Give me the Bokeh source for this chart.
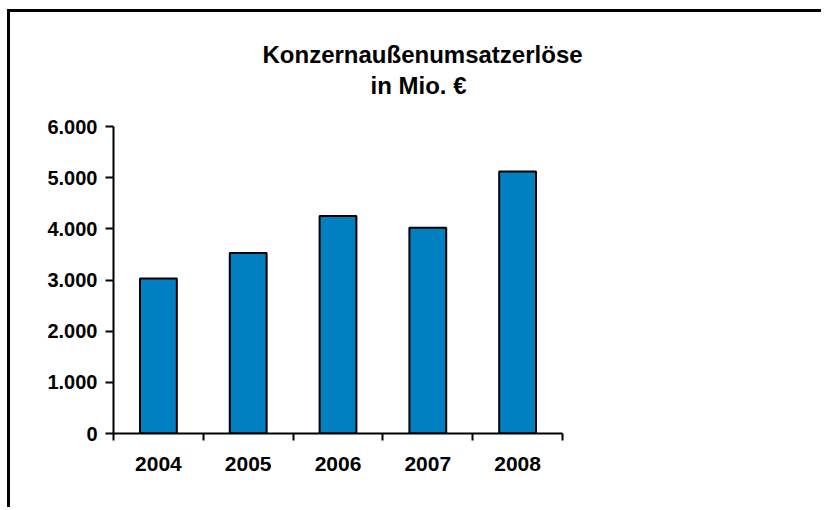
from bokeh.plotting import figure
from bokeh.models import Range1d, FixedTicker, Title, ColumnDataSource
from bokeh.embed import file_html
from bokeh.resources import INLINE

# ---- data ----
years = ["2004", "2005", "2006", "2007", "2008"]
revenue = [3030, 3530, 4250, 4020, 5120]
y_ticks = [0, 1000, 2000, 3000, 4000, 5000, 6000]
y_tick_labels = ["0", "1.000", "2.000", "3.000", "4.000", "5.000", "6.000"]
title_lines = ["Konzernaußenumsatzerlöse", "in Mio. €"]

FONT = "Liberation Sans"
BAR_COLOR = "#0080C0"

x_pos = [i + 0.5 for i in range(len(years))]
src = ColumnDataSource(dict(x=x_pos, top=revenue, year=years))

W, H = 814, 498
p = figure(width=W, height=H, output_backend="svg", toolbar_location=None,
           x_range=Range1d(0, len(years)), y_range=Range1d(0, 6000),
           min_border_left=103, min_border_right=262,
           min_border_top=114, min_border_bottom=77)
p.styles = {"border-left": "3px solid black", "border-top": "3px solid black",
            "margin-left": "7px", "margin-top": "9px"}
p.xgrid.visible = False
p.ygrid.visible = False
p.outline_line_color = None
p.background_fill_color = "white"
p.border_fill_color = "white"

p.vbar(x="x", top="top", bottom=0, width=0.41, source=src,
       fill_color=BAR_COLOR, line_color="black", line_width=2)

# y axis
ya = p.yaxis[0]
ya.ticker = FixedTicker(ticks=y_ticks)
ya.major_label_overrides = {t: l for t, l in zip(y_ticks, y_tick_labels)}
ya.major_tick_out = 8
ya.major_tick_in = 0
ya.minor_tick_out = 0
ya.minor_tick_in = 0
ya.axis_line_width = 2
ya.axis_line_color = "black"
ya.major_tick_line_width = 2
ya.major_tick_line_color = "black"
ya.major_label_standoff = 8
ya.major_label_text_font = FONT
ya.major_label_text_font_style = "bold"
ya.major_label_text_font_size = "20px"
ya.major_label_text_color = "black"

# x axis: labels centred in categories, tick marks on category boundaries
xa = p.xaxis[0]
xa.ticker = FixedTicker(ticks=x_pos, minor_ticks=list(range(len(years) + 1)))
xa.major_label_overrides = {x: y for x, y in zip(x_pos, years)}
xa.major_tick_out = 0
xa.major_tick_in = 0
xa.minor_tick_out = 7
xa.minor_tick_in = 0
xa.minor_tick_line_width = 2
xa.minor_tick_line_color = "black"
xa.axis_line_width = 2
xa.axis_line_color = "black"
xa.major_label_standoff = 16
xa.major_label_text_font = FONT
xa.major_label_text_font_style = "bold"
xa.major_label_text_font_size = "21px"
xa.major_label_text_color = "black"

# spacer between plot frame and the title block
p.add_layout(Title(text="\u00a0", text_font_size="1px", standoff=22), "above")

# title: two lines, second line closest to the frame
for txt, off, so in zip(reversed(title_lines), [257, 149], [5, 0]):
    p.add_layout(Title(text=txt, align="left", offset=off, standoff=so,
                       text_font=FONT, text_font_style="bold",
                       text_font_size="24px", text_color="black"), "above")

open("out.html", "w").write(file_html(p, INLINE))
